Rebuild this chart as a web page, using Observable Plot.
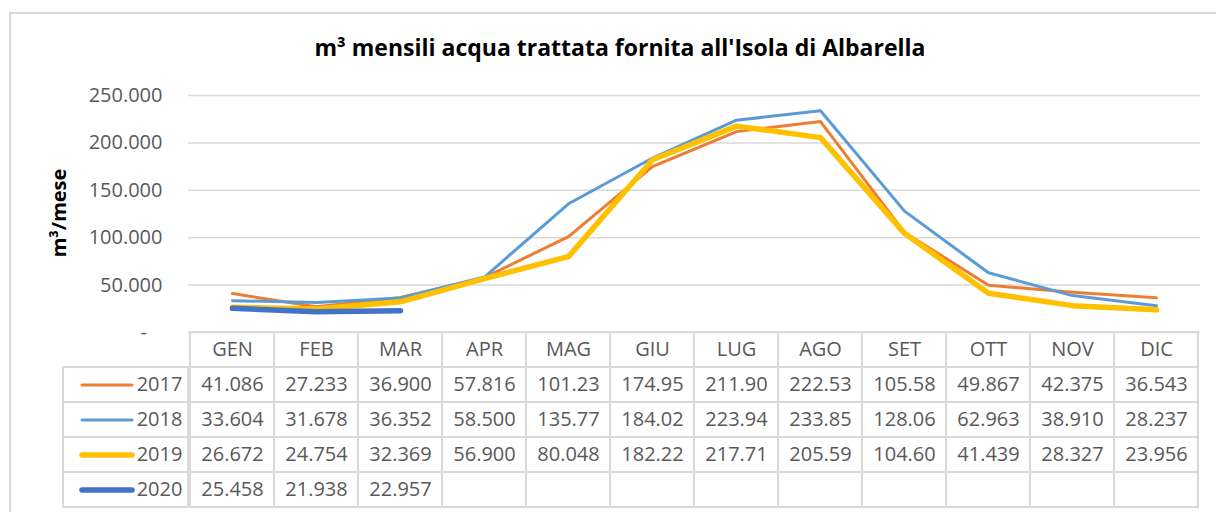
<!DOCTYPE html>
<html><head><meta charset="utf-8">
<script src="https://cdn.jsdelivr.net/npm/d3@7"></script>
<script src="https://cdn.jsdelivr.net/npm/@observablehq/plot@0.6"></script>
<style>
body{margin:0;background:#fff;}
#wrap{position:relative;width:1216px;height:512px;overflow:hidden;font-family:"Open Sans",sans-serif;background:#fff;}
#frame{position:absolute;left:9px;top:12px;width:1230px;height:530px;border:2px solid #d9d9d9;box-sizing:border-box;}
#title{position:absolute;left:0;width:1240px;top:32px;text-align:center;font-weight:bold;font-size:23px;color:#000;line-height:30px;}
#ylabel{position:absolute;left:58px;top:213px;transform:translate(-50%,-50%) rotate(-90deg);font-weight:bold;font-size:20px;white-space:nowrap;color:#000;}
.abs{position:absolute;left:0;}
</style></head>
<body>
<div id="wrap">
  <div id="frame"></div>
  <div id="title">m³ mensili acqua trattata fornita all'Isola di Albarella</div>
  <div id="ylabel">m³/mese</div>
  <div id="chart" class="abs" style="top:80px"></div>
  <div id="table" class="abs" style="top:331px"></div>
  <div id="legend" class="abs" style="top:331px"></div>
</div>
<script>
// ---- data ----
const months = ["GEN","FEB","MAR","APR","MAG","GIU","LUG","AGO","SET","OTT","NOV","DIC"];
const years = ["2017","2018","2019","2020"];
const v2017 = [41086, 27233, 36900, 57816, 101230, 174950, 211900, 222530, 105580, 49867, 42375, 36543];
const v2018 = [33604, 31678, 36352, 58500, 135770, 184020, 223940, 233850, 128060, 62963, 38910, 28237];
const v2019 = [26672, 24754, 32369, 56900, 80048, 182220, 217710, 205590, 104600, 41439, 28327, 23956];
const v2020 = [25458, 21938, 22957];
const yTicks = [0, 50000, 100000, 150000, 200000, 250000];
const colors = {"2017": "#ED7D31", "2018": "#5B9BD5", "2019": "#FFC000", "2020": "#4472C4"};
const widths = {"2017": 3, "2018": 3, "2019": 5.5, "2020": 5.5};

// ---- build tables ----
const seriesValues = {"2017": v2017, "2018": v2018, "2019": v2019, "2020": v2020};
const long = years.flatMap(y => seriesValues[y].map((v, i) => ({year: y, month: months[i], value: v})));
const it = d3.formatLocale({decimal: ",", thousands: ".", grouping: [3], currency: ["€", ""]});
const fmt = it.format(",d");
const cellLabel = v => fmt(v).slice(0, 6);
const rows = ["header", ...years];
const gridCells = rows.flatMap(r => months.map(m => ({row: r, month: m})));
const headerTexts = months.map(m => ({row: "header", month: m, text: m}));
const valueTexts = long.map(d => ({row: d.year, month: d.month, text: cellLabel(d.value)}));
const legendRows = years.map(y => ({year: y}));

const font = "'Open Sans', sans-serif";
const grey = "#d9d9d9";
const txt = "#595959";

// ---- line chart ----
const chart = Plot.plot({
  width: 1216, height: 270,
  marginTop: 15, marginBottom: 18, marginLeft: 188, marginRight: 16,
  style: {background: "transparent", fontFamily: font, overflow: "visible"},
  x: {type: "point", domain: months, padding: 0.5, axis: null},
  y: {domain: [0, 250000]},
  marks: [
    Plot.gridY({ticks: yTicks, stroke: grey, strokeOpacity: 1, strokeWidth: 1.5}),
    Plot.axisY({ticks: yTicks, tickSize: 0, tickPadding: 26, fontSize: 20, color: txt, label: null,
      tickFormat: d => d === 0 ? "-\u00a0\u00a0\u00a0" : fmt(d)}),
    ...years.map(y => Plot.line(long.filter(d => d.year === y), {
      x: "month", y: "value", stroke: colors[y], strokeWidth: widths[y],
      strokeLinejoin: "round", strokeLinecap: "round"
    }))
  ]
});
document.getElementById("chart").append(chart);

// ---- data table ----
const table = Plot.plot({
  width: 1216, height: 177,
  marginTop: 1, marginBottom: 1, marginLeft: 188, marginRight: 16,
  style: {background: "transparent", fontFamily: font, overflow: "visible"},
  x: {type: "band", domain: months, padding: 0, axis: null},
  y: {type: "band", domain: rows, padding: 0, axis: null},
  marks: [
    Plot.cell(gridCells, {x: "month", y: "row", fill: "none", stroke: grey, strokeWidth: 2, inset: 0}),
    Plot.text(headerTexts, {x: "month", y: "row", text: "text", fontSize: 20, fill: txt}),
    Plot.text(valueTexts, {x: "month", y: "row", text: "text", fontSize: 20, fill: txt})
  ]
});
document.getElementById("table").append(table);

// ---- legend column ----
const legend = Plot.plot({
  width: 189, height: 177,
  marginTop: 1, marginBottom: 1, marginLeft: 63, marginRight: 1,
  style: {background: "transparent", fontFamily: font, overflow: "visible"},
  x: {type: "band", domain: ["swatch", "label"], padding: 0, axis: null},
  y: {type: "band", domain: rows, padding: 0, axis: null},
  marks: [
    Plot.cell(legendRows, {y: "year", fill: "none", stroke: grey, strokeWidth: 2, inset: 0}),
    Plot.tickY(legendRows, {x: () => "swatch", y: "year", stroke: d => colors[d.year],
      strokeWidth: d => widths[d.year], strokeLinecap: "round", insetLeft: 18, insetRight: -6}),
    Plot.text(legendRows, {x: () => "label", y: "year", text: "year", fontSize: 20, fill: txt, dx: 2})
  ]
});
document.getElementById("legend").append(legend);
</script>
</body></html>
